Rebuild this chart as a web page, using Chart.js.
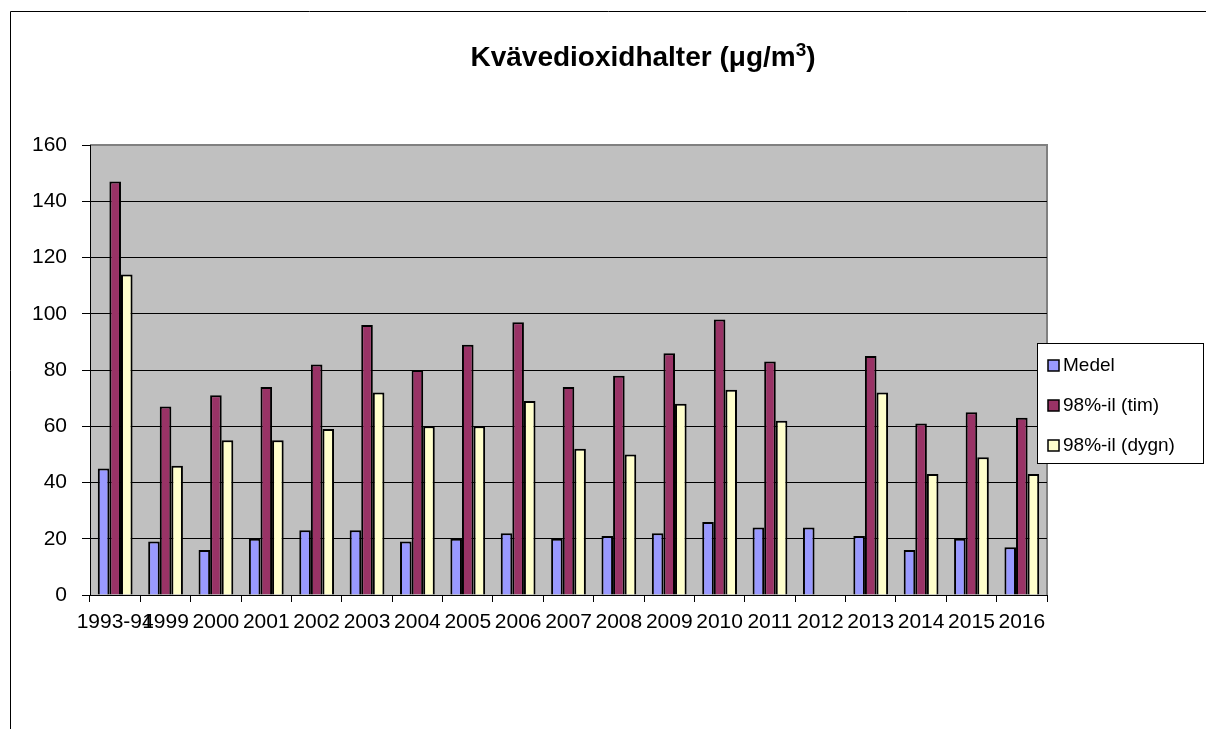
<!DOCTYPE html>
<html lang="sv">
<head>
<meta charset="utf-8">
<title>Kvävedioxidhalter</title>
<script src="https://cdn.jsdelivr.net/npm/chart.js@4.4.1/dist/chart.umd.min.js"></script>
<style>
  html, body { margin: 0; padding: 0; background: #ffffff; }
  #chart { display: block; }
</style>
</head>
<body>
<canvas id="chart" width="1206" height="729"></canvas>
<script>
// ─── Data ────────────────────────────────────────────────────────────────────
const CATEGORIES = [
  '1993-94', '1999', '2000', '2001', '2002', '2003', '2004', '2005', '2006',
  '2007', '2008', '2009', '2010', '2011', '2012', '2013', '2014', '2015', '2016',
];
const MEDEL = [45, 19, 16, 20, 23, 23, 19, 20, 22, 20, 21, 22, 26, 24, 24, 21, 16, 20, 17];
const TIM   = [147, 67, 71, 74, 82, 96, 80, 89, 97, 74, 78, 86, 98, 83, null, 85, 61, 65, 63];
const DYGN  = [114, 46, 55, 55, 59, 72, 60, 60, 69, 52, 50, 68, 73, 62, null, 72, 43, 49, 43];
const SERIES_LABELS = ['Medel', '98%-il (tim)', '98%-il (dygn)'];
const Y_TICKS = [0, 20, 40, 60, 80, 100, 120, 140, 160];
// title is drawn as: main text + superscript + closing text
const TITLE_PARTS = ['Kvävedioxidhalter (μg/m', '3', ')'];

// ─── Styling ─────────────────────────────────────────────────────────────────
const FONT = "'Liberation Sans', Arial, sans-serif";
const COLORS = ['#9999FF', '#993366', '#FFFFCC'];
const PLOT_BG = '#C0C0C0';
const PLOT_EDGE = '#808080';

// Excel-like frame, plot background, title and boxed legend.
const excelLook = {
  id: 'excelLook',
  beforeDraw(chart) {
    const { ctx, chartArea: a } = chart;
    ctx.save();
    // outer frame (runs off the right / bottom of the picture)
    ctx.strokeStyle = '#000';
    ctx.lineWidth = 1;
    ctx.beginPath();
    ctx.moveTo(10.5, chart.height + 5);
    ctx.lineTo(10.5, 11.5);
    ctx.lineTo(chart.width + 5, 11.5);
    ctx.stroke();
    // plot area
    ctx.fillStyle = PLOT_BG;
    ctx.fillRect(a.left, a.top, a.right - a.left, a.bottom - a.top);
    ctx.strokeStyle = PLOT_EDGE;
    ctx.lineWidth = 2;
    ctx.beginPath();
    ctx.moveTo(a.left, a.top);
    ctx.lineTo(a.right, a.top);
    ctx.lineTo(a.right, a.bottom);
    ctx.stroke();
    ctx.restore();
  },
  afterDraw(chart) {
    const { ctx } = chart;
    ctx.save();
    // title with a real superscript 3
    ctx.fillStyle = '#000';
    ctx.textAlign = 'left';
    ctx.textBaseline = 'alphabetic';
    const mainFont = 'bold 28px ' + FONT;
    const supFont = 'bold 19px ' + FONT;
    ctx.font = mainFont;
    const w0 = ctx.measureText(TITLE_PARTS[0]).width;
    const w2 = ctx.measureText(TITLE_PARTS[2]).width;
    ctx.font = supFont;
    const w1 = ctx.measureText(TITLE_PARTS[1]).width;
    let x = 643 - (w0 + w1 + w2) / 2;
    const base = 66;
    ctx.font = mainFont;
    ctx.fillText(TITLE_PARTS[0], x, base);
    x += w0;
    ctx.font = supFont;
    ctx.fillText(TITLE_PARTS[1], x, base - 10);
    x += w1;
    ctx.font = mainFont;
    ctx.fillText(TITLE_PARTS[2], x, base);

    // legend box
    const box = { x: 1037, y: 343, w: 166, h: 120 };
    ctx.fillStyle = '#fff';
    ctx.fillRect(box.x, box.y, box.w, box.h);
    ctx.strokeStyle = '#000';
    ctx.lineWidth = 1;
    ctx.strokeRect(box.x + 0.5, box.y + 0.5, box.w, box.h);
    ctx.font = '19px ' + FONT;
    ctx.textAlign = 'left';
    ctx.textBaseline = 'middle';
    chart.data.datasets.forEach((ds, i) => {
      const cy = 365 + i * 40;
      ctx.fillStyle = ds.backgroundColor;
      ctx.fillRect(1048, cy - 5, 11, 11);
      ctx.strokeStyle = '#000';
      ctx.lineWidth = 1.5;
      ctx.strokeRect(1048, cy - 5, 11, 11);
      ctx.fillStyle = '#000';
      ctx.fillText(ds.label, 1063, cy + 1);
    });
    ctx.restore();
  },
};

function makeDataset(label, data, color) {
  return {
    label,
    data,
    backgroundColor: color,
    borderColor: '#000',
    borderWidth: 2,
    borderSkipped: 'bottom',
    categoryPercentage: 0.69,
    barPercentage: 1.0,
  };
}

const axisFont = { family: FONT, size: 21 };

new Chart(document.getElementById('chart'), {
  type: 'bar',
  data: {
    labels: CATEGORIES,
    datasets: [
      makeDataset(SERIES_LABELS[0], MEDEL, COLORS[0]),
      makeDataset(SERIES_LABELS[1], TIM, COLORS[1]),
      makeDataset(SERIES_LABELS[2], DYGN, COLORS[2]),
    ],
  },
  options: {
    responsive: false,
    animation: false,
    layout: { padding: { left: 10, right: 159, top: 145, bottom: 94 } },
    plugins: {
      legend: { display: false },
      title: { display: false },
      tooltip: { enabled: false },
    },
    scales: {
      x: {
        grid: { drawOnChartArea: false, offset: true, tickLength: 7, tickColor: '#000' },
        border: { color: '#000', width: 1 },
        ticks: {
          autoSkip: false, maxRotation: 0, minRotation: 0,
          padding: 8, color: '#000', font: axisFont,
        },
        afterFit(scale) { scale.height = 40; },
      },
      y: {
        min: Y_TICKS[0],
        max: Y_TICKS[Y_TICKS.length - 1],
        afterBuildTicks(scale) { scale.ticks = Y_TICKS.map((v) => ({ value: v })); },
        grid: {
          color: (c) => (c.tick && c.tick.value === 160 ? PLOT_EDGE : '#000'),
          tickLength: 8,
          tickColor: '#000',
        },
        border: { color: '#000', width: 1 },
        ticks: { padding: 15, color: '#000', font: axisFont },
        afterFit(scale) { scale.width = 80; },
      },
    },
  },
  plugins: [excelLook],
});
</script>
</body>
</html>
